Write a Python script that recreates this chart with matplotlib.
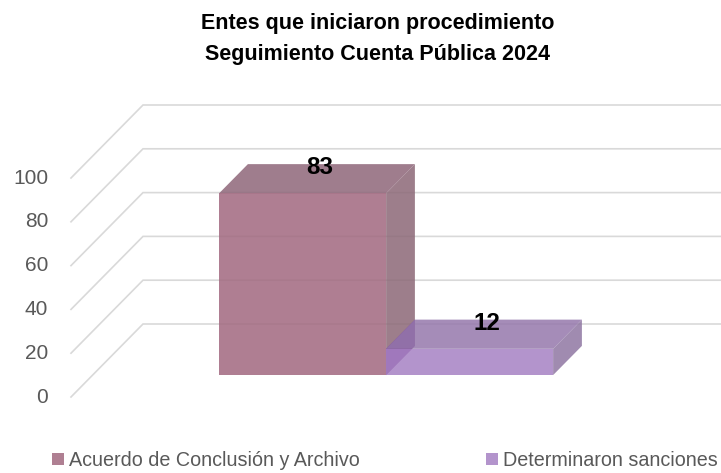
import matplotlib
matplotlib.use("Agg")
import matplotlib.pyplot as plt
from matplotlib.patches import Polygon, Patch

# data
series = ["Acuerdo de Conclusión y Archivo", "Determinaron sanciones"]
values = [83, 12]
ticks = [0, 20, 40, 60, 80, 100]
title = "Entes que iniciaron procedimiento\nSeguimiento Cuenta Pública 2024"

# colours (front / top / side faces), drawn with alpha
front_cols = ["#A1687F", "#A681C3"]
top_cols = ["#8E6679", "#9578AC"]
side_cols = ["#8C6877", "#8F77A2"]
hidden_col = "#7A3F98"
legend_cols = ["#AF7F92", "#B394CC"]
ALPHA = 0.85

plt.rcParams["font.family"] = ["Liberation Sans", "DejaVu Sans"]

fig = plt.figure(figsize=(7.21, 4.73), dpi=100)
ax = fig.add_axes([0, 0, 1, 1])
ax.set_axis_off()

# oblique projection: x in floor units (0..1), y in value units, depth 0..1
FLOOR_PX = 587.0
VAL_PX = 2.19
ax.set_xlim(-71 / FLOOR_PX, (721 - 71) / FLOOR_PX)
ax.set_ylim((397 - 473) / VAL_PX, 397 / VAL_PX)
ddx = 72 / FLOOR_PX
ddy = 73 / VAL_PX


def proj(x, v, d):
    return (x + d * ddx, v + d * ddy)


# gridlines: diagonal side wall + back wall
for t in ticks:
    pts = [proj(0, t, 0), proj(0, t, 1), proj(1, t, 1)]
    ax.plot([p[0] for p in pts], [p[1] for p in pts], color="#D9D9D9",
            lw=1.2, zorder=1, solid_joinstyle="miter")
    x0, y0 = proj(0, t, 0)
    ax.text(x0 - 23 / FLOOR_PX, y0, str(t), ha="right", va="center",
            fontsize=15, color="#595959")

# bars
w = 0.2845
d0, d1 = 0.3, 0.7
z = 3
for i, v in enumerate(values):
    xa = 0.5 - w + i * w
    xb = xa + w
    faces = []
    if i > 0:
        faces.append(([proj(xa, 0, d0), proj(xa, 0, d1), proj(xa, v, d1), proj(xa, v, d0)], hidden_col))
    faces.append(([proj(xb, 0, d0), proj(xb, 0, d1), proj(xb, v, d1), proj(xb, v, d0)], side_cols[i]))
    faces.append(([proj(xa, v, d0), proj(xb, v, d0), proj(xb, v, d1), proj(xa, v, d1)], top_cols[i]))
    faces.append(([proj(xa, 0, d0), proj(xb, 0, d0), proj(xb, v, d0), proj(xa, v, d0)], front_cols[i]))
    for pts, col in faces:
        ax.add_patch(Polygon(pts, closed=True, facecolor=col, edgecolor="none",
                             alpha=ALPHA, zorder=z))
        z += 1
    lx, ly = proj((xa + xb) / 2, v, (d0 + d1) / 2)
    ax.annotate(str(v), (lx, ly), xytext=(2, 8), textcoords="offset points",
                ha="center", va="center", fontsize=17.5, fontweight="bold",
                color="black", zorder=20)

fig.text(0.524, 0.917, title, ha="center", va="center", fontsize=15.5,
         fontweight="bold", linespacing=1.6)

handles = [Patch(facecolor=c, edgecolor="none") for c in legend_cols]
fig.legend(handles, series, ncol=2, loc="center", bbox_to_anchor=(0.534, 0.027),
           frameon=False, prop={"size": 14.2},
           labelcolor="#595959", handlelength=0.6, handleheight=0.6,
           handletextpad=0.25, columnspacing=6.4, borderaxespad=0, borderpad=0)

fig.savefig("out.png", dpi=100, facecolor="white")
